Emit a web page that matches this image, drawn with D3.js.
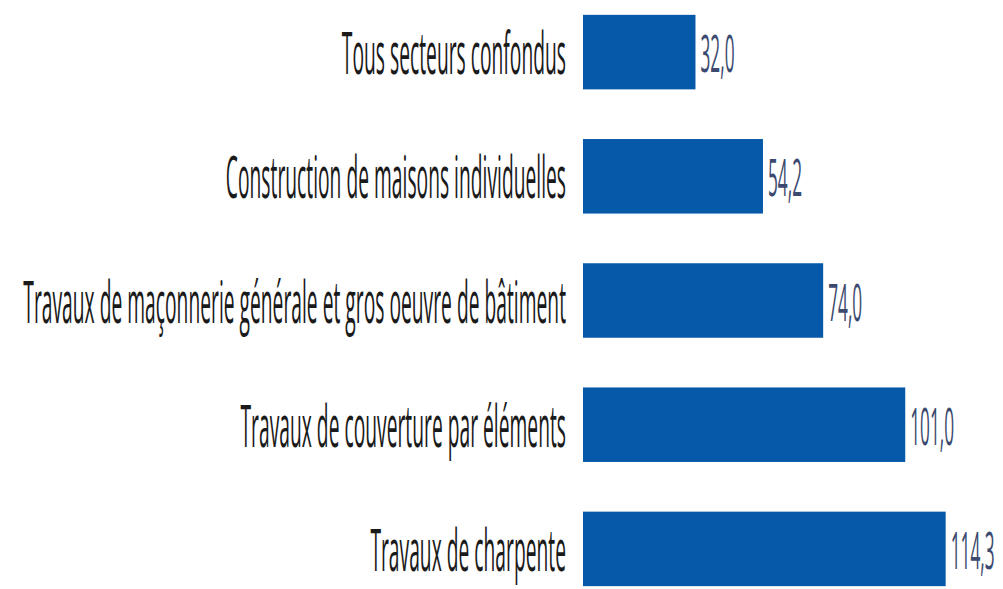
<!DOCTYPE html>
<html>
<head>
<meta charset="utf-8">
<script src="https://cdn.jsdelivr.net/npm/d3@7"></script>
<style>
  body { margin: 0; background: #fff; }
  text { font-family: "Open Sans", sans-serif; }
</style>
</head>
<body>
<script>
// categories and values
var secteurs = [
    "Tous secteurs confondus",
    "Construction de maisons individuelles",
    "Travaux de maçonnerie générale et gros oeuvre de bâtiment",
    "Travaux de couverture par éléments",
    "Travaux de charpente"
];
var valeurs = [32.0, 54.2, 74.0, 101.0, 114.3];

var data = secteurs.map(function (s, i) { return { secteur: s, valeur: valeurs[i] }; });

var width = 1003;
var height = 589;
var left = 583;

var svg = d3.select("body").append("svg")
    .attr("width", width)
    .attr("height", height);

// x scale (bars start a bit left of zero, as in the source chart)
var xScale = d3.scaleLinear()
    .domain([-5, 120])
    .range([left, left + 380]);

var yScale = d3.scaleBand()
    .domain(secteurs)
    .range([-10, 611])
    .paddingInner(0.4)
    .paddingOuter(0.2);

var sx = 0.332; // condensed look of the original font

// bars
svg.selectAll(".bar")
    .data(data)
    .enter().append("rect")
    .attr("class", "bar")
    .attr("x", left)
    .attr("y", function (d) { return yScale(d.secteur); })
    .attr("width", function (d) { return xScale(d.valeur) - left; })
    .attr("height", yScale.bandwidth())
    .attr("fill", "#0659a9");

// category labels
svg.selectAll(".label")
    .data(data)
    .enter().append("text")
    .attr("class", "label")
    .attr("text-anchor", "end")
    .attr("font-size", 58)
    .attr("fill", "#1a1a1a")
    .attr("transform", function (d) {
        var y = yScale(d.secteur) + yScale.bandwidth() / 2 + 22;
        return "translate(566," + y + ") scale(" + sx + ",1)";
    })
    .text(function (d) { return d.secteur; });

// value labels
svg.selectAll(".value")
    .data(data)
    .enter().append("text")
    .attr("class", "value")
    .attr("font-size", 52)
    .attr("fill", "#3b4a6e")
    .attr("transform", function (d) {
        var y = yScale(d.secteur) + yScale.bandwidth() / 2 + 20;
        return "translate(" + (xScale(d.valeur) + 5) + "," + y + ") scale(" + sx + ",1)";
    })
    .text(function (d) { return d3.format(".1f")(d.valeur).replace(".", ","); });
</script>
</body>
</html>
